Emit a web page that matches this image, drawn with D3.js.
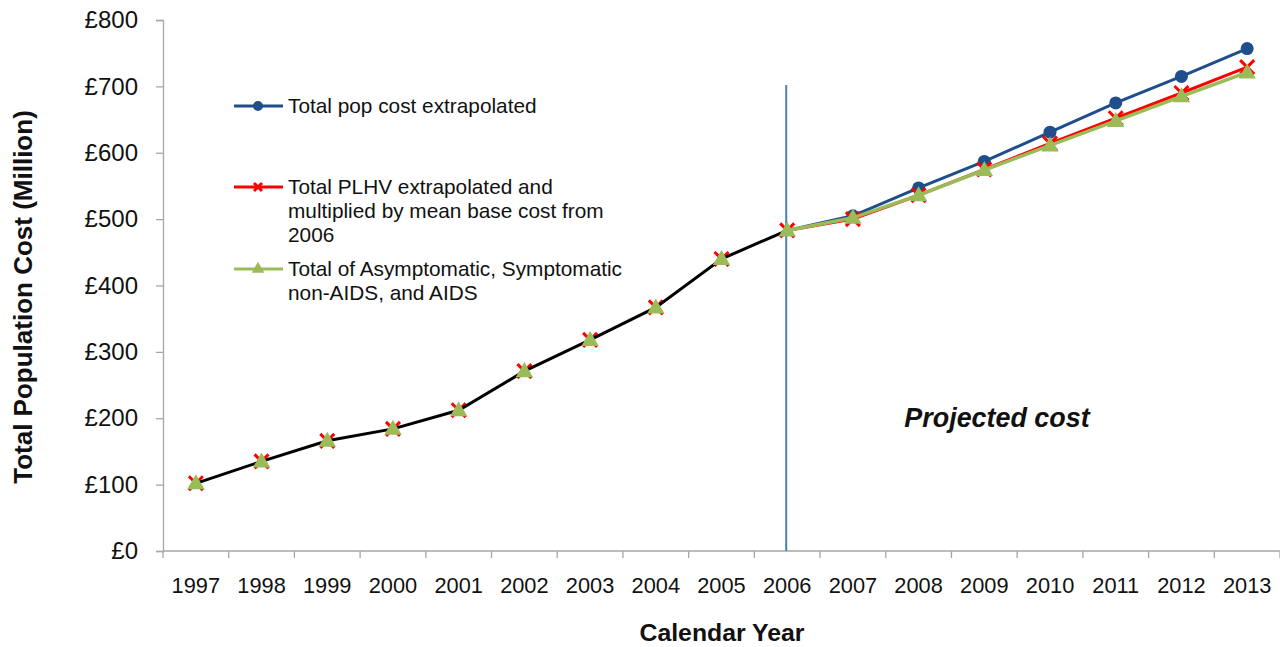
<!DOCTYPE html>
<html><head><meta charset="utf-8">
<script src="https://cdn.jsdelivr.net/npm/d3@7"></script>
<style>body{margin:0;background:#fff}svg{display:block;font-family:"Liberation Sans",Arial,sans-serif}</style>
</head><body><svg id="c" width="1280" height="647"></svg>
<script>
const years = ["1997","1998","1999","2000","2001","2002","2003","2004","2005","2006","2007","2008","2009","2010","2011","2012","2013"];
const historical = [102,135,166,184,212,271,318,367,440,483];
const popCostYears = ["2006","2007","2008","2009","2010","2011","2012","2013"];
const popCost = [483,505,547,587,631,675,715,757];
const plhv = [483,500,536,575,614,652,690,729];
const stages = [483,502,536,574,611,648,685,721];
const yTicks = [0,100,200,300,400,500,600,700,800];

const svg = d3.select("#c");
const L=163, R=1280, T=20, B=551;
const x = d3.scaleBand().domain(years).range([L,R]);
const y = d3.scaleLinear().domain([0,800]).range([B,T]);
const cx = d => x(d)+x.bandwidth()/2;
const axisCol="#a6a6a6";

// y axis
const ya = svg.append("g").attr("transform",`translate(${L},0)`)
  .call(d3.axisLeft(y).tickValues(yTicks).tickSize(7).tickFormat(d=>"£"+d));
ya.select(".domain").attr("stroke",axisCol).attr("stroke-width",1.3);
ya.selectAll(".tick line").attr("stroke",axisCol).attr("stroke-width",1.3);
ya.selectAll(".tick text").attr("font-size",24).attr("fill","#111").attr("x",-25)
  .attr("font-family","Liberation Sans, Arial");

// x axis
const xg = svg.append("g").attr("transform",`translate(0,${B})`);
xg.append("line").attr("x1",L).attr("x2",R).attr("stroke",axisCol).attr("stroke-width",1.3);
xg.selectAll("line.t").data(years.concat(["end"])).enter().append("line")
  .attr("x1",(d,i)=>i<years.length?x(d):R).attr("x2",(d,i)=>i<years.length?x(d):R)
  .attr("y1",0).attr("y2",7).attr("stroke",axisCol).attr("stroke-width",1.3);
xg.selectAll("text").data(years).enter().append("text")
  .attr("x",d=>cx(d)).attr("y",42).attr("text-anchor","middle")
  .attr("font-size",21.8).attr("fill","#111").text(d=>d);

// titles
svg.append("text").attr("transform","translate(32,297) rotate(-90)").attr("text-anchor","middle")
  .attr("font-size",26).attr("font-weight","bold").attr("fill","#111").text("Total Population Cost (Million)");
svg.append("text").attr("x",722).attr("y",641).attr("text-anchor","middle")
  .attr("font-size",24.8).attr("font-weight","bold").attr("fill","#111").text("Calendar Year");

// vertical line at 2006
svg.append("line").attr("x1",cx("2006")-1).attr("x2",cx("2006")-1).attr("y1",85).attr("y2",B)
  .attr("stroke","#4a7ec8").attr("stroke-width",2);

svg.append("text").attr("x",997).attr("y",427).attr("text-anchor","middle")
  .attr("font-size",26.9).attr("font-weight","bold").attr("font-style","italic").attr("fill","#111").text("Projected cost");

const line = d3.line().x(d=>cx(d[0])).y(d=>y(d[1]));
const blue="#1f4e8c", red="#ff0000", green="#9bbb59";

const hist = years.slice(0,historical.length).map((d,i)=>[d,historical[i]]);
const pc = popCostYears.map((d,i)=>[d,popCost[i]]);
const pl = popCostYears.map((d,i)=>[d,plhv[i]]);
const st = popCostYears.map((d,i)=>[d,stages[i]]);

function drawX(g,px,py,s){
  g.append("path").attr("d",`M${px-s},${py-s}L${px+s},${py+s}M${px-s},${py+s}L${px+s},${py-s}`)
   .attr("stroke",red).attr("stroke-width",3).attr("fill","none");
}
function drawTri(g,px,py,s){
  g.append("path").attr("d",d3.symbol().type(d3.symbolTriangle).size(s)())
   .attr("transform",`translate(${px},${py})`).attr("fill",green);
}

// blue
svg.append("path").datum(pc).attr("d",line).attr("fill","none").attr("stroke",blue).attr("stroke-width",3);
svg.selectAll("circle.b").data(pc.slice(1)).enter().append("circle")
  .attr("cx",d=>cx(d[0])).attr("cy",d=>y(d[1])).attr("r",6.5).attr("fill",blue);
// red
svg.append("path").datum(pl).attr("d",line).attr("fill","none").attr("stroke",red).attr("stroke-width",3);
const mk = svg.append("g");
hist.concat(pl.slice(1)).forEach(d=>drawX(mk,cx(d[0]),y(d[1]),7));
// historical black
svg.append("path").datum(hist).attr("d",line).attr("fill","none").attr("stroke","#000").attr("stroke-width",3);
// green
svg.append("path").datum(st).attr("d",line).attr("fill","none").attr("stroke",green).attr("stroke-width",3.5);
const mg = svg.append("g");
hist.concat(st.slice(1)).forEach(d=>drawTri(mg,cx(d[0]),y(d[1])+1,130));

// legend
const leg = [
  {c:blue,t:["Total pop cost extrapolated"],y:106,m:"c"},
  {c:red,t:["Total PLHV extrapolated and","multiplied by mean base cost from","2006"],y:187,m:"x"},
  {c:green,t:["Total of Asymptomatic, Symptomatic","non-AIDS, and AIDS"],y:269,m:"t"}
];
leg.forEach(l=>{
  const g = svg.append("g");
  g.append("line").attr("x1",234).attr("x2",283).attr("y1",l.y).attr("y2",l.y).attr("stroke",l.c).attr("stroke-width",3);
  if(l.m==="c") g.append("circle").attr("cx",258).attr("cy",l.y).attr("r",5).attr("fill",blue);
  if(l.m==="x") { g.append("path").attr("d",`M254,${l.y-4}L262,${l.y+4}M254,${l.y+4}L262,${l.y-4}`).attr("stroke",red).attr("stroke-width",3); }
  if(l.m==="t") drawTri(g,258,l.y,70);
  l.t.forEach((s,i)=>g.append("text").attr("x",288).attr("y",l.y+7+i*24).attr("font-size",20.8).attr("fill","#111").text(s));
});
</script></body></html>
